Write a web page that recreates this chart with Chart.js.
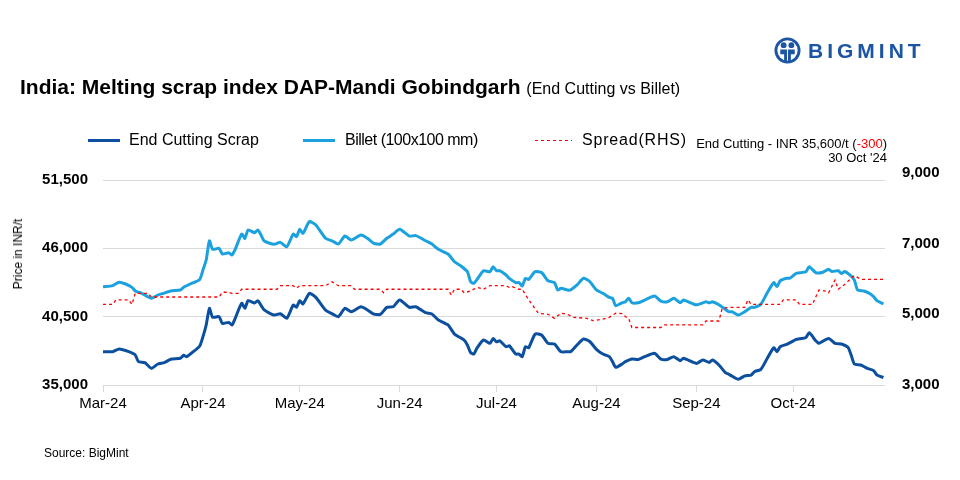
<!DOCTYPE html>
<html lang="en">
<head>
  <meta charset="UTF-8">
  <title>India: Melting scrap index DAP-Mandi Gobindgarh</title>
  <style>
    body {
      margin: 0;
      width: 960px;
      height: 480px;
      position: relative;
      background: #fff;
      font-family: "Liberation Sans", Arial, sans-serif;
      color: #000;
      overflow: hidden;
    }
    #chartBox {
      position: absolute;
      left: 0;
      top: 0;
      width: 960px;
      height: 480px;
    }
    .logo {
      position: absolute;
      left: 774px;
      top: 37px;
      display: flex;
      align-items: center;
    }
    .logo span {
      margin-left: 7px;
      font-weight: bold;
      font-size: 21px;
      letter-spacing: 4px;
      color: #1b55a3;
    }
    h1 {
      position: absolute;
      left: 20px;
      top: 75px;
      margin: 0;
      font-size: 21px;
      font-weight: bold;
      white-space: nowrap;
    }
    h1 small {
      font-size: 16px;
      font-weight: normal;
    }
    .legend {
      position: absolute;
      top: 130px;
      left: 88px;
      height: 20px;
      font-size: 16px;
      white-space: nowrap;
    }
    .legend div {
      position: absolute;
      top: 0;
      line-height: 20px;
    }
    .legend i {
      position: absolute;
      top: 9px;
      height: 3px;
    }
    .note {
      position: absolute;
      right: 73px;
      top: 137px;
      text-align: right;
      font-size: 13px;
      line-height: 14px;
    }
    .note b { font-weight: normal; color: #ff0000; }
    .ylab {
      position: absolute;
      left: 18px;
      top: 254px;
      font-size: 12px;
      transform: translate(-50%, -50%) rotate(-90deg);
      white-space: nowrap;
    }
    .source {
      position: absolute;
      left: 44px;
      top: 446px;
      font-size: 12px;
    }
  </style>
</head>
<body>
  <div id="chartBox"><canvas id="priceChart"></canvas></div>

  <div class="logo">
    <svg width="27" height="27" viewBox="0 0 28 28">
      <circle cx="14" cy="14" r="12" fill="none" stroke="#1b55a3" stroke-width="3"/>
      <circle cx="10" cy="8.5" r="3" fill="#1b55a3"/>
      <circle cx="18" cy="8.5" r="3" fill="#1b55a3"/>
      <path d="M6.5 13 h7 v12 h-3 v-7 h-4 z" fill="#1b55a3"/>
      <path d="M21.5 13 h-7 v12 h3 v-7 h4 z" fill="#1b55a3"/>
    </svg>
    <span>BIGMINT</span>
  </div>

  <h1>India: Melting scrap index DAP-Mandi Gobindgarh <small>(End Cutting vs Billet)</small></h1>

  <div class="legend">
    <i style="left:0;width:32px;background:#0b4f9e"></i>
    <div style="left:41px">End Cutting Scrap</div>
    <i style="left:215px;width:32px;background:#1ba1dd"></i>
    <div style="left:257px;letter-spacing:-0.5px">Billet (100x100 mm)</div>
    <i style="left:447px;width:37px;height:1px;top:10px;background:repeating-linear-gradient(to right,#ff0000 0 3px,transparent 3px 6px)"></i>
    <div style="left:494px;letter-spacing:0.8px">Spread(RHS)</div>
  </div>

  <div class="note">End Cutting - INR 35,600/t (<b>-300</b>)<br>30 Oct '24</div>
  <div class="ylab">Price in INR/t</div>
  <div class="source">Source: BigMint</div>

  <script src="https://cdn.jsdelivr.net/npm/chart.js"></script>
  <script>
    // x values are days counted from 1 Mar 2024
    const monthTicks = [0, 31, 61, 92, 122, 153, 184, 214];
    const monthLabels = ['Mar-24', 'Apr-24', 'May-24', 'Jun-24', 'Jul-24', 'Aug-24', 'Sep-24', 'Oct-24'];
    const leftTicks = [35000, 40500, 46000, 51500];
    const rightTicks = [3000, 5000, 7000, 9000];

    const scrapDays = [0, 3, 5, 8, 10, 11, 13, 15, 17, 19, 21, 24, 25, 26, 28, 30, 31, 32, 33, 34, 36, 37, 39, 40,
      41, 43, 44, 45, 47, 48, 50, 53, 55, 57, 59, 60, 61, 62, 64, 66, 69, 71, 73, 75, 77, 80, 82, 84, 86, 88, 90,
      92, 95, 97, 100, 102, 104, 107, 109, 112, 113, 114, 115, 116, 118, 120, 121, 122, 123, 125, 126, 128, 129,
      130, 131, 132, 134, 136, 138, 140, 142, 144, 145, 147, 149, 151, 153, 155, 157, 158, 159, 161, 162, 164,
      166, 168, 171, 173, 175, 177, 179, 180, 184, 186, 188, 189, 191, 193, 194, 195, 197, 199, 201, 202, 204,
      206, 208, 209, 210, 212, 215, 216, 218, 219, 221, 222, 225, 227, 229, 231, 232, 233, 235, 237, 239, 240, 242];
    const scrapPrice = [37680, 37680, 37900, 37680, 37410, 36880, 36800, 36340, 36690, 36800, 37070, 37150, 37390,
      37280, 37680, 38140, 38890, 39830, 41170, 40450, 40500, 39960, 40040, 39830,
      40370, 41580, 41170, 41790, 41600, 41790, 41040, 40630, 40740, 40370, 41440, 41260, 41790, 41520, 42380,
      42050, 41040, 40740, 40500, 41170, 40900, 41300, 41040, 40710, 40680, 41250, 41300,
      41840, 41250, 41300, 40820, 40710, 40230, 39830, 39100, 38620, 38220, 37600, 37490, 37980, 38620, 38350,
      38750, 38480, 38560, 38080, 38160, 37490, 37490,
      37280, 38080, 38000, 39100, 39020, 38350, 38300, 37680, 37680, 37680, 38220, 38700, 38480, 37870, 37490,
      37280, 36880, 36420, 36690, 36880, 37090,
      37060, 37280, 37550, 37090, 37060, 37280, 36960, 37150, 36740, 37010, 36820, 37010, 36610, 35990, 35880,
      35720, 35460, 35730, 35800, 36070, 36260,
      37150, 38000, 37680, 38080, 38270, 38670, 38720, 38830, 39210, 38570, 38350, 38750, 38350, 38300, 38030,
      37410, 36690, 36610, 36340, 36150, 35800, 35600];

    const billetDays = [0, 3, 5, 7, 9, 10, 12, 15, 17, 19, 21, 24, 25, 27, 30, 31, 32, 33, 34, 36, 37, 39, 40, 41,
      43, 44, 45, 47, 48, 49, 50, 53, 55, 57, 59, 60, 61, 62, 64, 66, 69, 71, 73, 75, 77, 80, 82, 84, 86, 88, 90,
      92, 95, 97, 100, 102, 104, 107, 109, 111, 113, 114, 115, 116, 118, 120, 121, 122, 123, 125, 126, 128, 129,
      130, 131, 132, 134, 136, 138, 140, 141, 142, 144, 145, 147, 149, 151, 153, 155, 157, 158, 159, 161, 162,
      163, 164, 166, 168, 171, 173, 175, 177, 179, 180, 184, 187, 188, 189, 191, 193, 194, 195, 197, 199, 201,
      202, 204, 206, 208, 209, 210, 212, 213, 215, 216, 218, 219, 221, 223, 225, 226, 228, 229, 230, 232, 233,
      234, 236, 238, 239, 240, 242];
    const billetPrice = [42900, 43000, 43270, 43130, 42860, 42570, 42380, 41980, 42240, 42400, 42570, 42650, 42860,
      43130, 43500, 44260, 45060, 46610, 45920, 46000, 45540, 45650, 45460, 45920,
      47150, 46800, 47480, 47260, 47480, 47070, 46590, 46320, 46480, 46130, 47150, 46940, 47530, 47210, 48150,
      47880, 46810, 46610, 46350, 46990, 46670, 47070, 46810, 46400, 46350, 46810, 47150,
      47530, 46990, 47020, 46610, 46350, 45920, 45540, 44920, 44580, 44120, 43310, 43190, 43500, 44200, 44120,
      44520, 44200, 44200, 43850, 43580, 43240, 43240,
      42970, 43580, 43500, 44120, 44050, 43390, 43240, 42650, 42780, 42650, 42650, 43050, 43590, 43310, 42650,
      42380, 42050, 41980, 41380, 41620, 41700,
      41980, 41620, 41620, 41840, 42160, 41760, 41700, 41980, 41620, 41840, 41460, 41700, 41620, 41700, 41460,
      41090, 40900, 40900, 40630, 40900, 41250,
      41250, 41500, 42430, 43240, 42920, 43390, 43590, 43590, 43990, 44030, 44120, 44520, 44050, 44050, 44310,
      44130, 44200, 43970, 44130, 43770, 43450,
      42650, 42570, 42330, 42100, 41790, 41520];

    const spreadDays = [0, 3, 4, 8, 9, 10, 14, 15, 36, 37, 39, 40, 42, 43, 54, 55, 59, 60, 61, 69, 71, 73, 77, 78,
      86, 87, 88, 107, 108, 109, 111, 112, 114, 116, 118, 120, 125, 126, 127, 129, 130, 132, 135, 138, 140, 142,
      144, 146, 150, 152, 155, 157, 159, 161, 162, 163, 164, 173, 174, 186, 187, 191, 192, 194, 199, 200, 201,
      210, 211, 215, 216, 220, 222, 224, 225, 227, 228, 230, 232, 233, 235, 242];
    const spreadValue = [5270, 5270, 5400, 5400, 5270, 5585, 5585, 5480, 5480, 5615, 5615, 5585, 5585, 5700, 5700,
      5800, 5800, 5730, 5800, 5800, 5910, 5800, 5800, 5700,
      5700, 5600, 5700, 5700, 5535, 5700, 5700, 5600, 5650, 5750, 5700, 5800, 5800, 5750, 5770, 5700, 5700, 5400,
      5020, 4990, 4875, 5020,
      4990, 4905, 4875, 4810, 4850, 4905, 5020, 5010, 4925, 4875, 4615, 4615, 4690, 4690, 4800, 4800, 5155, 5185,
      5185, 5400, 5270,
      5270, 5400, 5400, 5270, 5270, 5680, 5650, 5600, 5960, 5700, 5835, 6010, 6090, 5980, 5980];

    function pairs(xs, ys) {
      return xs.map((x, i) => ({ x: x, y: ys[i] }));
    }

    const tickFont = { family: 'Liberation Sans', size: 15, weight: 'bold' };

    new Chart(document.getElementById('priceChart'), {
      type: 'line',
      data: {
        datasets: [
          {
            label: 'Spread(RHS)',
            data: pairs(spreadDays, spreadValue),
            yAxisID: 'y2',
            borderColor: '#ff0000',
            borderWidth: 1.3,
            borderDash: [3, 3],
            pointRadius: 0,
            tension: 0
          },
          {
            label: 'Billet (100x100 mm)',
            data: pairs(billetDays, billetPrice),
            yAxisID: 'y',
            borderColor: '#1ba1dd',
            borderWidth: 3,
            pointRadius: 0,
            tension: 0.2
          },
          {
            label: 'End Cutting Scrap',
            data: pairs(scrapDays, scrapPrice),
            yAxisID: 'y',
            borderColor: '#0b4f9e',
            borderWidth: 3,
            pointRadius: 0,
            tension: 0.2
          }
        ]
      },
      options: {
        responsive: true,
        maintainAspectRatio: false,
        animation: false,
        layout: { padding: { top: 180, left: 0, right: 0, bottom: 0 } },
        plugins: {
          legend: { display: false },
          tooltip: { enabled: false }
        },
        scales: {
          x: {
            type: 'linear',
            min: 0,
            max: 242.5,
            afterBuildTicks: axis => { axis.ticks = monthTicks.map(v => ({ value: v })); },
            afterFit: axis => { axis.height = 95; },
            grid: { drawOnChartArea: false, color: '#d9d9d9', tickLength: 7 },
            border: { display: false },
            ticks: {
              autoSkip: false,
              maxRotation: 0,
              padding: 3,
              color: '#000',
              font: { family: 'Liberation Sans', size: 15 },
              callback: v => monthLabels[monthTicks.indexOf(v)]
            }
          },
          y: {
            position: 'left',
            min: 35000,
            max: 51500,
            afterBuildTicks: axis => { axis.ticks = leftTicks.map(v => ({ value: v })); },
            afterFit: axis => { axis.width = 103; },
            grid: { color: '#d9d9d9', drawTicks: false },
            border: { display: false },
            ticks: {
              padding: 15,
              color: '#000',
              font: tickFont,
              callback: v => v.toLocaleString('en-US')
            }
          },
          y2: {
            position: 'right',
            min: 2986,
            max: 8796,
            afterBuildTicks: axis => { axis.ticks = rightTicks.map(v => ({ value: v })); },
            afterFit: axis => { axis.width = 75; },
            grid: { display: false, drawTicks: false },
            border: { display: false },
            ticks: {
              autoSkip: false,
              padding: 17,
              color: '#000',
              font: tickFont,
              callback: v => v.toLocaleString('en-US')
            }
          }
        }
      }
    });
  </script>
</body>
</html>
